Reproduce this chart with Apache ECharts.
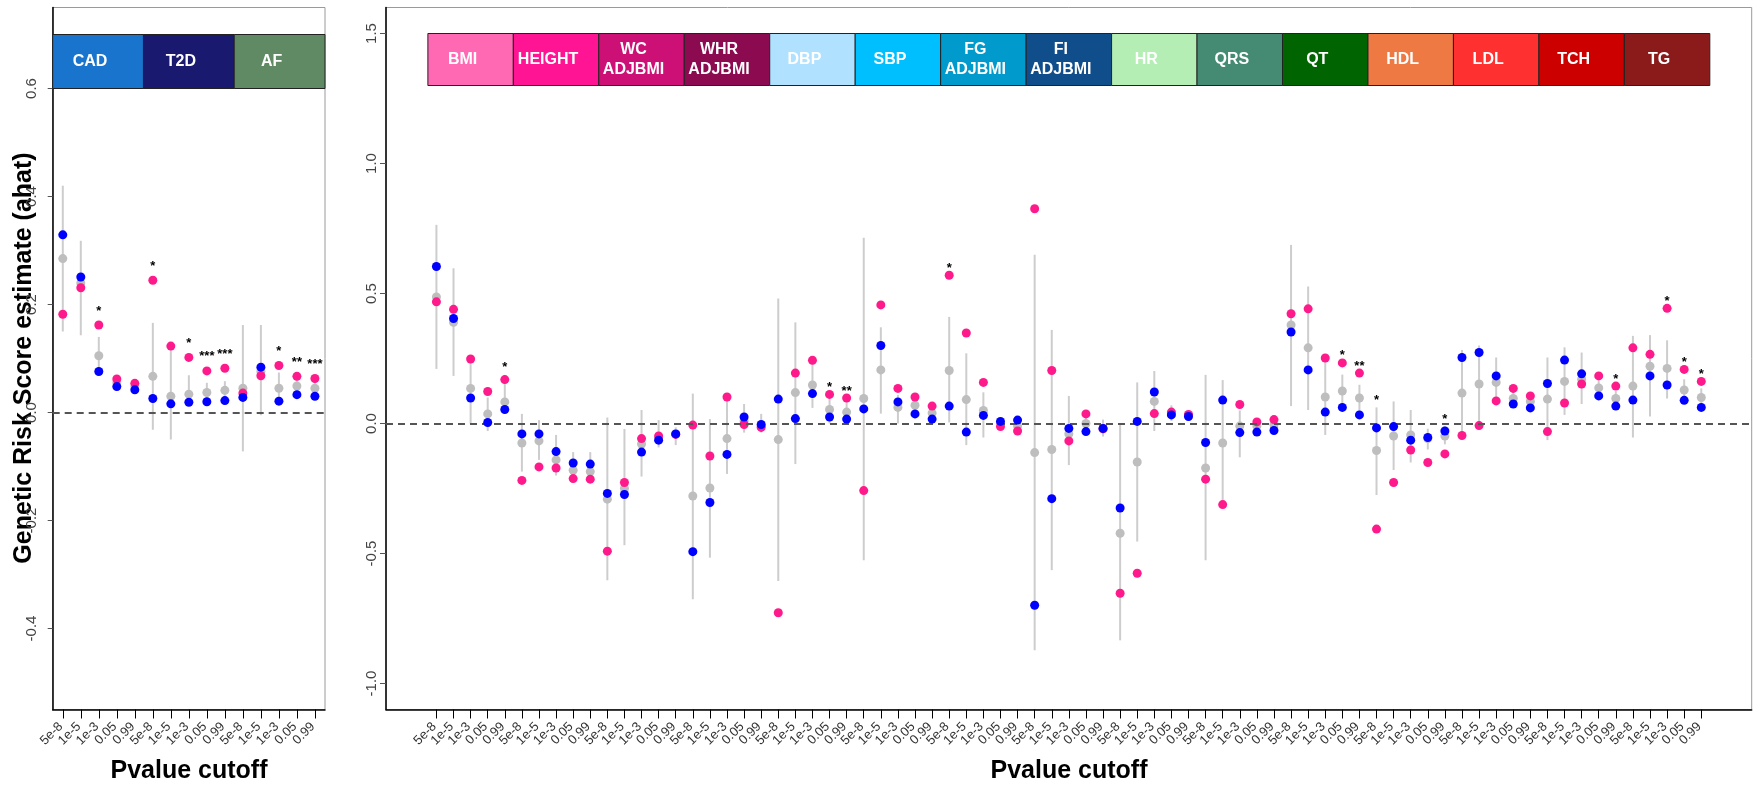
<!DOCTYPE html>
<html><head><meta charset="utf-8">
<script src="https://cdn.jsdelivr.net/npm/echarts@6/dist/echarts.min.js"></script>
<style>html,body{margin:0;padding:0;background:#fff}#c{width:1753px;height:788px}</style>
</head><body><div id="c"></div>
<script>
// ---------- data ----------
const cutoffs = ['5e-8', '1e-5', '1e-3', '0.05', '0.99'];

const leftTraits = ['CAD', 'T2D', 'AF'];
const leftTraitColors = ['#1874cd', '#191970', '#5f8a63'];
const leftYTicks = [-0.4, -0.2, 0.0, 0.2, 0.4, 0.6];
const leftGrey = [0.285, 0.240, 0.105, 0.055, 0.048,  0.067, 0.030, 0.034, 0.037, 0.041,  0.045, 0.076, 0.045, 0.049, 0.045];
const leftPink = [0.182, 0.231, 0.162, 0.062, 0.054,  0.245, 0.123, 0.102, 0.077, 0.082,  0.036, 0.068, 0.087, 0.067, 0.063];
const leftBlue = [0.329, 0.251, 0.076, 0.048, 0.042,  0.026, 0.016, 0.019, 0.020, 0.022,  0.028, 0.084, 0.021, 0.033, 0.030];
const leftLow  = [0.150, 0.143, 0.075, 0.045, 0.040, -0.032, -0.050, 0.014, 0.020, 0.025, -0.072, -0.005, 0.023, 0.035, 0.032];
const leftHigh = [0.420, 0.318, 0.140, 0.065, 0.060,  0.166, 0.120, 0.069, 0.055, 0.058,  0.162, 0.162, 0.074, 0.063, 0.058];
const leftStars = ['', '', '*', '', '',  '*', '', '*', '***', '***',  '', '', '*', '**', '***'];

const rightTraits = ['BMI', 'HEIGHT', 'WC\nADJBMI', 'WHR\nADJBMI', 'DBP', 'SBP', 'FG\nADJBMI', 'FI\nADJBMI', 'HR', 'QRS', 'QT', 'HDL', 'LDL', 'TCH', 'TG'];
const rightTraitColors = ['#ff69b4', '#ff1493', '#cd1076', '#8b0a50', '#b0e2ff', '#00bfff', '#009acd', '#104e8b', '#b4eeb4', '#458b74', '#006400', '#ee7942', '#ff3030', '#cd0000', '#8b1a1a'];
const rightYTicks = [-1.0, -0.5, 0.0, 0.5, 1.0, 1.5];
const rightGrey = [
  0.487, 0.389, 0.135, 0.037, 0.083,
  -0.075, -0.067, -0.140, -0.180, -0.185,
  -0.291, -0.250, -0.079, -0.055, -0.040,
  -0.279, -0.248, -0.058, 0.010, -0.010,
  -0.062, 0.119, 0.148, 0.054, 0.044,
  0.096, 0.206, 0.062, 0.070, 0.040,
  0.204, 0.092, 0.050, 0.000, -0.010,
  -0.112, -0.100, -0.040, 0.000, -0.020,
  -0.422, -0.148, 0.085, 0.040, 0.030,
  -0.171, -0.075, -0.010, -0.010, -0.005,
  0.379, 0.291, 0.102, 0.125, 0.098,
  -0.104, -0.048, -0.044, -0.058, -0.048,
  0.117, 0.152, 0.158, 0.096, 0.085,
  0.094, 0.162, 0.170, 0.137, 0.096,
  0.144, 0.220, 0.212, 0.129, 0.100];
const rightPink = [
  0.468, 0.439, 0.248, 0.123, 0.169,
  -0.219, -0.167, -0.171, -0.212, -0.214,
  -0.491, -0.227, -0.058, -0.048, -0.042,
  -0.006, -0.125, 0.102, -0.004, -0.015,
  -0.728, 0.194, 0.243, 0.112, 0.098,
  -0.258, 0.456, 0.135, 0.102, 0.067,
  0.570, 0.348, 0.158, -0.012, -0.029,
  0.826, 0.204, -0.067, 0.037, -0.020,
  -0.653, -0.576, 0.038, 0.044, 0.035,
  -0.214, -0.312, 0.073, 0.006, 0.015,
  0.422, 0.441, 0.252, 0.233, 0.194,
  -0.406, -0.227, -0.102, -0.150, -0.117,
  -0.046, -0.008, 0.087, 0.135, 0.106,
  -0.031, 0.079, 0.152, 0.183, 0.144,
  0.291, 0.266, 0.443, 0.208, 0.162];
const rightBlue = [
  0.604, 0.404, 0.098, 0.004, 0.054,
  -0.040, -0.040, -0.108, -0.152, -0.156,
  -0.269, -0.273, -0.110, -0.064, -0.040,
  -0.493, -0.304, -0.119, 0.025, -0.004,
  0.094, 0.019, 0.115, 0.025, 0.017,
  0.056, 0.300, 0.083, 0.037, 0.017,
  0.067, -0.033, 0.031, 0.008, 0.013,
  -0.699, -0.289, -0.019, -0.031, -0.019,
  -0.325, 0.008, 0.121, 0.033, 0.027,
  -0.073, 0.090, -0.035, -0.033, -0.027,
  0.352, 0.206, 0.044, 0.062, 0.033,
  -0.017, -0.012, -0.064, -0.054, -0.029,
  0.254, 0.273, 0.183, 0.075, 0.060,
  0.154, 0.244, 0.191, 0.106, 0.067,
  0.090, 0.183, 0.148, 0.089, 0.062];
const rightLow = [
  0.210, 0.183, 0.000, -0.029, 0.042,
  -0.185, -0.140, -0.200, -0.220, -0.225,
  -0.603, -0.468, -0.204, -0.092, -0.083,
  -0.676, -0.516, -0.194, -0.035, -0.035,
  -0.606, -0.156, 0.060, 0.000, 0.000,
  -0.526, 0.038, 0.000, 0.020, 0.010,
  0.004, -0.083, -0.054, -0.020, -0.030,
  -0.872, -0.564, -0.160, -0.030, -0.050,
  -0.834, -0.454, -0.029, 0.010, 0.010,
  -0.526, -0.300, -0.130, -0.040, -0.030,
  0.067, 0.052, -0.044, 0.062, 0.033,
  -0.275, -0.179, -0.150, -0.100, -0.080,
  -0.040, 0.000, 0.090, 0.070, 0.060,
  -0.064, 0.033, 0.075, 0.110, 0.070,
  -0.054, 0.027, 0.096, 0.090, 0.070];
const rightHigh = [
  0.764, 0.597, 0.235, 0.100, 0.187,
  0.037, 0.013, -0.044, -0.110, -0.110,
  0.023, -0.021, 0.052, 0.013, -0.015,
  0.115, 0.017, 0.090, 0.075, 0.037,
  0.481, 0.389, 0.230, 0.110, 0.090,
  0.714, 0.370, 0.110, 0.110, 0.070,
  0.410, 0.270, 0.120, 0.020, 0.010,
  0.649, 0.360, 0.106, 0.030, 0.015,
  -0.006, 0.158, 0.202, 0.070, 0.050,
  0.187, 0.167, 0.050, 0.020, 0.020,
  0.687, 0.527, 0.250, 0.188, 0.149,
  0.062, 0.085, 0.052, -0.020, -0.010,
  0.283, 0.300, 0.254, 0.125, 0.110,
  0.254, 0.293, 0.273, 0.165, 0.125,
  0.337, 0.340, 0.320, 0.170, 0.135];
const rightStars = [
  '', '', '', '', '*',
  '', '', '', '', '',
  '', '', '', '', '',
  '', '', '', '', '',
  '', '', '', '*', '**',
  '', '', '', '', '',
  '*', '', '', '', '',
  '', '', '', '', '',
  '', '', '', '', '',
  '', '', '', '', '',
  '', '', '', '*', '**',
  '*', '', '', '', '*',
  '', '', '', '', '',
  '', '', '', '', '*',
  '', '', '*', '*', '*'];

// ---------- chart ----------
const FONT = '"Liberation Sans", Arial, Helvetica, sans-serif';
const PINK = '#ff1a8c', BLUE = '#0000ff', GREY = '#bebebe', ERR = '#cdcdcd';

function positions(n) { return Array.from({length: n}, (_, i) => i + 1); }

const panels = [
  {traits: leftTraits, colors: leftTraitColors, yTicks: leftYTicks, grey: leftGrey, pink: leftPink, blue: leftBlue,
   low: leftLow, high: leftHigh, stars: leftStars,
   grid: {left: 52.7, top: 7.5, width: 272.3, height: 702}, xmin: 0.44, xmax: 15.56, ymin: -0.55, ymax: 0.75,
   headTop: 0.7, headBot: 0.6, headFull: true, starOff: 14, labMargin: 13, tickLen: 5},
  {traits: rightTraits, colors: rightTraitColors, yTicks: rightYTicks, grey: rightGrey, pink: rightPink, blue: rightBlue,
   low: rightLow, high: rightHigh, stars: rightStars,
   grid: {left: 386, top: 7.5, width: 1365.7, height: 702}, xmin: -1.95, xmax: 77.95, ymin: -1.1, ymax: 1.6,
   headTop: 1.5, headBot: 1.3, headFull: false, starOff: 7, labMargin: 7, tickLen: 6}
];

const grids = [], xAxes = [], yAxes = [], series = [];
panels.forEach((p, pi) => {
  const n = p.grey.length;
  const xs = positions(n);
  grids.push(Object.assign({show: true, borderColor: '#9a9a9a', borderWidth: 1, containLabel: false}, p.grid));
  xAxes.push({
    gridIndex: pi, type: 'value', min: p.xmin, max: p.xmax,
    axisLine: {show: true, onZero: false, lineStyle: {color: '#000', width: 1.5}},
    axisTick: {show: true, customValues: xs, length: 9, lineStyle: {color: '#000', width: 1}},
    axisLabel: {show: false},
    splitLine: {show: false}
  });
  yAxes.push({
    gridIndex: pi, type: 'value', min: p.ymin, max: p.ymax,
    axisLine: {show: true, onZero: false, lineStyle: {color: '#000', width: 1.5}},
    axisTick: {show: true, customValues: p.yTicks, length: p.tickLen, lineStyle: {color: '#555'}},
    axisLabel: {show: true, customValues: p.yTicks, rotate: 90, margin: p.labMargin, fontSize: 15, color: '#444', fontFamily: FONT,
      showMinLabel: true, showMaxLabel: true,
      formatter: v => Number(v).toFixed(1)},
    splitLine: {show: false}
  });

  // error bars + zero line
  series.push({
    type: 'custom', xAxisIndex: pi, yAxisIndex: pi, z: 2, silent: true,
    data: xs.map((x, i) => [x, p.low[i], p.high[i]]),
    encode: {x: 0, y: [1, 2]},
    renderItem: (params, api) => {
      const a = api.coord([api.value(0), api.value(1)]);
      const b = api.coord([api.value(0), api.value(2)]);
      return {type: 'line', shape: {x1: a[0], y1: a[1], x2: b[0], y2: b[1]}, style: {stroke: ERR, lineWidth: 2}};
    },
    markLine: {silent: true, symbol: 'none', label: {show: false}, animation: false,
      lineStyle: {type: [7, 5], color: '#555', width: 2}, data: [{yAxis: 0}]}
  });
  [[p.grey, GREY, 3], [p.pink, PINK, 4], [p.blue, BLUE, 5]].forEach(([vals, col, z]) => {
    series.push({type: 'scatter', xAxisIndex: pi, yAxisIndex: pi, z: z, symbol: 'circle', symbolSize: 9,
      itemStyle: {color: col, opacity: 1}, silent: true, animation: false,
      data: xs.map((x, i) => [x, vals[i]])});
  });
  // stars
  series.push({
    type: 'custom', xAxisIndex: pi, yAxisIndex: pi, z: 6, silent: true,
    data: xs.map((x, i) => [x, Math.max(p.grey[i], p.pink[i], p.blue[i], p.high[i])]),
    renderItem: (params, api) => {
      const s = p.stars[params.dataIndex];
      if (!s) return null;
      const c = api.coord([api.value(0), api.value(1)]);
      return {type: 'text', x: c[0], y: c[1] - p.starOff,
        style: {text: s, fill: '#000', font: 'bold 13px ' + FONT, align: 'center', verticalAlign: 'middle'}};
    }
  });
  // x tick labels (rotated 45°, all shown, placed via the x scale)
  series.push({
    type: 'custom', xAxisIndex: pi, yAxisIndex: pi, z: 6, silent: true, clip: false,
    data: xs.map(x => [x, p.ymin]),
    renderItem: (params, api) => {
      const c = api.coord([api.value(0), api.value(1)]);
      return {type: 'text', x: c[0] - 2, y: c[1] + 15, rotation: Math.PI / 4,
        style: {text: cutoffs[params.dataIndex % 5], fill: '#333', font: '13px ' + FONT, align: 'right', verticalAlign: 'middle'}};
    }
  });
  // header boxes
  const nT = p.traits.length;
  series.push({
    type: 'custom', xAxisIndex: pi, yAxisIndex: pi, z: 7, silent: true,
    data: p.traits.map((t, i) => p.headFull
      ? [p.xmin + (p.xmax - p.xmin) * i / nT, p.xmin + (p.xmax - p.xmin) * (i + 1) / nT, p.headTop, p.headBot]
      : [5 * i + 0.5, 5 * i + 5.5, p.headTop, p.headBot]),
    renderItem: (params, api) => {
      const a = api.coord([api.value(0), api.value(2)]);
      const b = api.coord([api.value(1), api.value(3)]);
      const i = params.dataIndex;
      return {type: 'group', children: [
        {type: 'rect', shape: {x: a[0], y: a[1], width: b[0] - a[0], height: b[1] - a[1]},
         style: {fill: p.colors[i], stroke: '#222', lineWidth: 1}},
        {type: 'text', x: (a[0] + b[0]) / 2 - 8, y: (a[1] + b[1]) / 2,
         style: {text: p.traits[i], fill: '#fff', font: 'bold 16px ' + FONT, align: 'center', verticalAlign: 'middle', lineHeight: 20}}
      ]};
    }
  });
});

const chart = echarts.init(document.getElementById('c'), null, {renderer: 'canvas'});
chart.setOption({
  animation: false,
  backgroundColor: '#fff',
  grid: grids, xAxis: xAxes, yAxis: yAxes, series: series,
  graphic: [
    {type: 'text', x: 24, y: 358, rotation: Math.PI / 2,
     style: {text: 'Genetic Risk Score estimate (ahat)', font: 'bold 25px ' + FONT, fill: '#000', align: 'center', verticalAlign: 'middle'}},
    {type: 'text', x: 189, y: 771,
     style: {text: 'Pvalue cutoff', font: 'bold 25px ' + FONT, fill: '#000', align: 'center', verticalAlign: 'middle'}},
    {type: 'text', x: 1069, y: 771,
     style: {text: 'Pvalue cutoff', font: 'bold 25px ' + FONT, fill: '#000', align: 'center', verticalAlign: 'middle'}}
  ]
});
</script>
</body></html>
